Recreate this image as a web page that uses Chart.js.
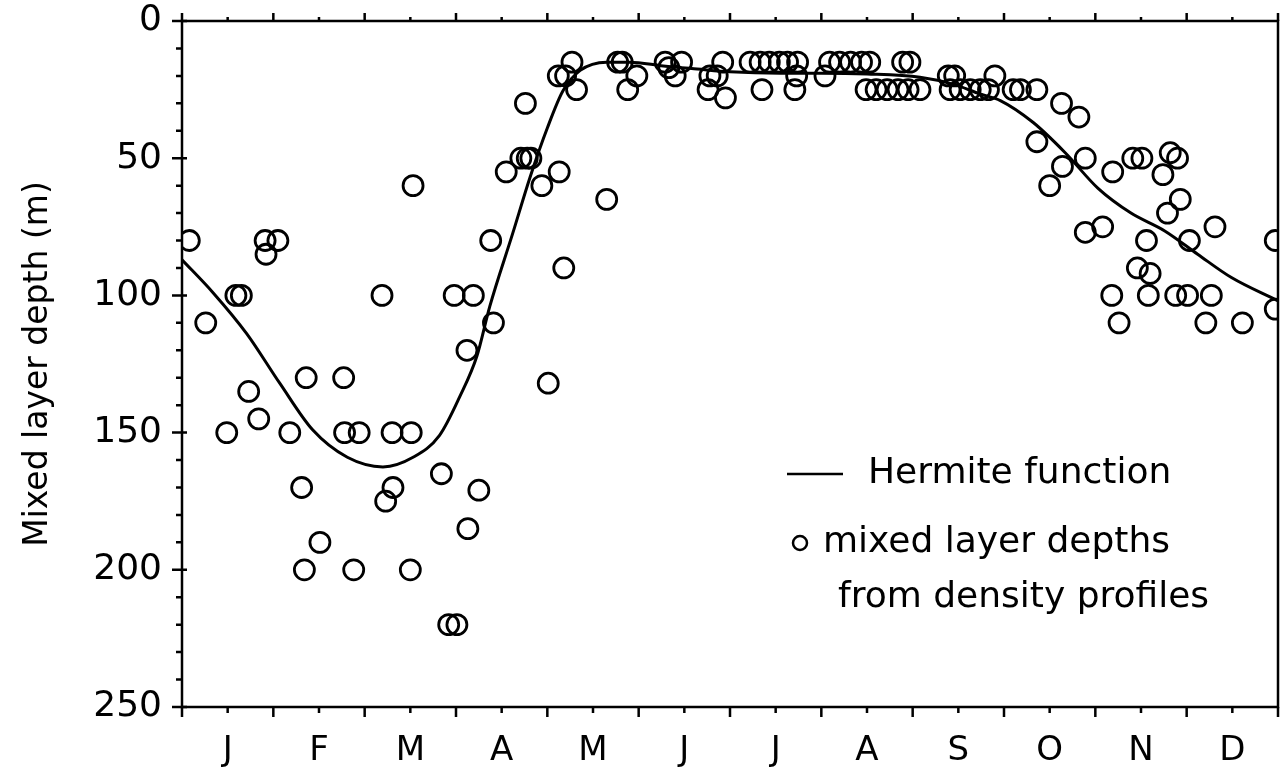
<!DOCTYPE html>
<html>
<head>
<meta charset="utf-8">
<title>Mixed layer depth</title>
<script src="https://cdn.jsdelivr.net/npm/chart.js@4.4.1/dist/chart.umd.min.js"></script>
<style>
  html, body { margin: 0; padding: 0; background: #fff; }
  #wrap { width: 1281px; height: 768px; }
</style>
</head>
<body>
<div id="wrap"><canvas id="mldChart" width="1281" height="768"></canvas></div>
<script>
// month initials, centred in each month
const monthLabels = ['J', 'F', 'M', 'A', 'M', 'J', 'J', 'A', 'S', 'O', 'N', 'D'];
const depthTicks = [0, 50, 100, 150, 200, 250];

// mixed layer depths from density profiles (time in months since 1 Jan, depth in m)
const obsMonth = [
  0.08, 0.26, 0.49, 0.59, 0.65, 0.73, 0.84, 0.91, 0.92, 1.05,
  1.18, 1.31, 1.36, 1.34, 1.51, 1.77, 1.78, 1.88, 1.94, 2.19,
  2.23, 2.31, 2.30, 2.51, 2.50, 2.53, 2.84, 2.98, 2.92, 3.01,
  3.12, 3.13, 3.19, 3.25, 3.38, 3.41, 3.55, 3.71, 3.78, 3.82,
  3.76, 3.94, 4.01, 4.13, 4.18, 4.12, 4.20, 4.27, 4.32, 4.65,
  4.77, 4.82, 4.88, 4.98, 5.29, 5.47, 5.33, 5.40, 5.76, 5.78,
  5.86, 5.92, 5.95, 6.22, 6.33, 6.43, 6.54, 6.63, 6.74, 6.35,
  6.71, 6.73, 7.04, 7.09, 7.20, 7.32, 7.44, 7.53, 7.89, 7.97,
  7.49, 7.60, 7.72, 7.84, 7.95, 8.08, 8.39, 8.46, 8.41, 8.52,
  8.63, 8.74, 8.83, 8.90, 9.10, 9.18, 9.36, 9.36, 9.50, 9.64,
  9.63, 9.82, 9.89, 9.89, 10.08, 10.19, 10.18, 10.26, 10.41, 10.51,
  10.46, 10.56, 10.58, 10.60, 10.74, 10.79, 10.82, 10.90, 10.93, 10.88,
  11.01, 11.03, 11.21, 11.27, 11.31, 11.61, 11.97, 11.97
];
const obsDepth = [
  80, 110, 150, 100, 100, 135, 145, 80, 85, 80,
  150, 170, 130, 200, 190, 130, 150, 200, 150, 100,
  175, 170, 150, 150, 200, 60, 165, 100, 220, 220,
  120, 185, 100, 171, 80, 110, 55, 50, 50, 50,
  30, 60, 132, 55, 90, 20, 20, 15, 25, 65,
  15, 15, 25, 20, 15, 15, 17, 20, 25, 20,
  20, 15, 28, 15, 15, 15, 15, 15, 15, 25,
  25, 20, 20, 15, 15, 15, 15, 15, 15, 15,
  25, 25, 25, 25, 25, 25, 20, 20, 25, 25,
  25, 25, 25, 20, 25, 25, 25, 44, 60, 53,
  30, 35, 50, 77, 75, 55, 100, 110, 50, 50,
  90, 80, 100, 92, 56, 70, 48, 50, 65, 100,
  100, 80, 110, 100, 75, 110, 80, 105
];

// fitted Hermite function
const fitMonth = [
  0, 0.34, 0.71, 1.07, 1.43, 1.81, 2.2, 2.53, 2.82, 3.04,
  3.23, 3.37, 3.62, 3.81, 4.0, 4.17, 4.36, 4.65, 4.9, 5.27,
  5.64, 6.0, 6.55, 7.0, 7.5, 8.08, 8.44, 8.74, 8.96, 9.32,
  9.67, 10.03, 10.39, 10.76, 11.12, 11.49, 12
];
const fitDepth = [
  87, 99, 114, 132, 149, 159, 162.5, 159, 151, 137,
  122, 104, 77.5, 57, 39, 25.5, 18, 15, 15, 16.4,
  17.5, 18.5, 19, 19, 19.3, 20.5, 23, 26.6, 29, 37,
  48, 61, 70, 76.5, 85, 93.5, 102
];

const FONT = "'DejaVu Sans', sans-serif";

// frame, tick marks and the in-plot legend
const frameAndLegend = {
  id: 'frameAndLegend',
  afterDatasetsDraw(chart) {
    const { ctx, chartArea: a, scales: { x, y } } = chart;
    ctx.save();
    ctx.strokeStyle = '#000';
    ctx.fillStyle = '#000';
    ctx.lineWidth = 2.5;
    ctx.strokeRect(a.left, a.top, a.right - a.left, a.bottom - a.top);

    ctx.beginPath();
    for (let m = 0; m <= 12; m += 0.5) {
      const px = x.getPixelForValue(m);
      const major = Number.isInteger(m);
      ctx.moveTo(px, a.bottom);
      ctx.lineTo(px, a.bottom + (major ? 10 : 6));
      ctx.moveTo(px, a.top);
      ctx.lineTo(px, a.top - (major ? 8 : 4));
    }
    for (let d = 0; d <= 250; d += 10) {
      const py = y.getPixelForValue(d);
      const major = d % 50 === 0;
      ctx.moveTo(a.left - (major ? 10 : 6), py);
      ctx.lineTo(a.left + (major ? 5 : 0), py);
    }
    ctx.stroke();

    // legend
    const lx = a.left + 605;
    ctx.lineWidth = 2.5;
    ctx.beginPath();
    ctx.moveTo(lx, 474);
    ctx.lineTo(lx + 56, 474);
    ctx.stroke();
    ctx.beginPath();
    ctx.arc(lx + 13, 543, 7, 0, Math.PI * 2);
    ctx.stroke();
    ctx.font = '36px ' + FONT;
    ctx.textBaseline = 'middle';
    ctx.textAlign = 'left';
    ctx.fillText('Hermite function', lx + 81, 474);
    ctx.fillText('mixed layer depths', lx + 36, 543);
    ctx.fillText('from density profiles', lx + 51, 598);
    ctx.restore();
  }
};

new Chart(document.getElementById('mldChart'), {
  type: 'scatter',
  data: {
    datasets: [
      {
        label: 'Hermite function',
        type: 'line',
        data: fitMonth.map((m, i) => ({ x: m, y: fitDepth[i] })),
        borderColor: '#000',
        borderWidth: 3,
        pointRadius: 0,
        cubicInterpolationMode: 'monotone',
        fill: false
      },
      {
        label: 'mixed layer depths from density profiles',
        data: obsMonth.map((m, i) => ({ x: m, y: obsDepth[i] })),
        pointStyle: 'circle',
        pointRadius: 10,
        borderColor: '#000',
        borderWidth: 2.8,
        backgroundColor: 'rgba(0,0,0,0)'
      }
    ]
  },
  options: {
    responsive: false,
    animation: false,
    devicePixelRatio: 1,
    layout: {
      autoPadding: false,
      padding: { top: 21, right: 3, left: 0, bottom: 0 }
    },
    plugins: {
      legend: { display: false },
      tooltip: { enabled: false }
    },
    scales: {
      x: {
        type: 'linear',
        min: 0,
        max: 12,
        grid: { display: false },
        border: { display: false },
        afterBuildTicks: (scale) => {
          scale.ticks = monthLabels.map((_, i) => ({ value: i + 0.5 }));
        },
        afterFit: (scale) => {
          scale.height = 61;
          scale.paddingLeft = 0;
          scale.paddingRight = 0;
        },
        ticks: {
          autoSkip: false,
          maxRotation: 0,
          padding: 16,
          color: '#000',
          font: { family: FONT, size: 34 },
          callback: (v) => monthLabels[Math.round(v - 0.5)]
        }
      },
      y: {
        type: 'linear',
        reverse: true,
        min: 0,
        max: 250,
        grid: { display: false },
        border: { display: false },
        afterBuildTicks: (scale) => {
          scale.ticks = depthTicks.map(v => ({ value: v }));
        },
        afterFit: (scale) => {
          scale.width = 182;
          scale.paddingTop = 0;
          scale.paddingBottom = 0;
        },
        ticks: {
          padding: 12,
          color: '#000',
          font: { family: FONT, size: 36 }
        },
        title: {
          display: true,
          text: 'Mixed layer depth (m)',
          color: '#000',
          font: { family: FONT, size: 33 },
          padding: { top: 19, bottom: 0 }
        }
      }
    }
  },
  plugins: [frameAndLegend]
});
</script>
</body>
</html>
